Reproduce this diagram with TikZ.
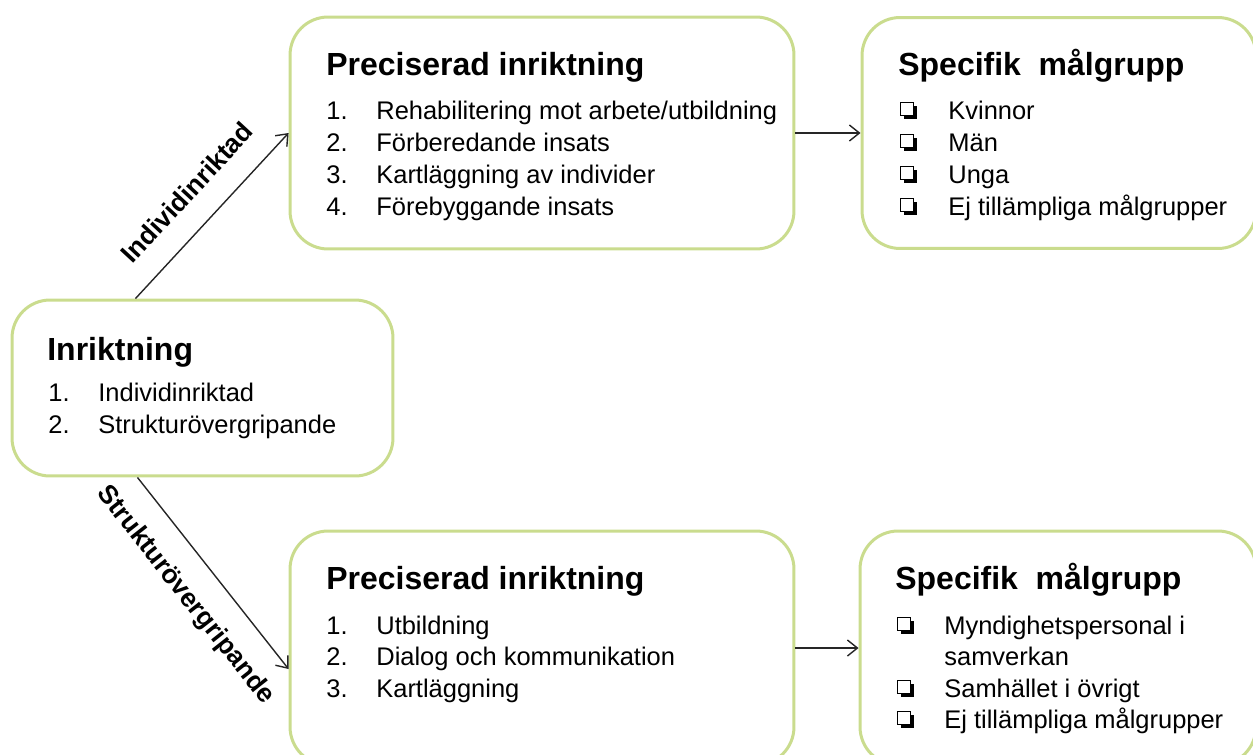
\documentclass[tikz,border=0pt]{standalone}
\usepackage{fontspec}
\setmainfont{Liberation Sans}
\usetikzlibrary{positioning,calc,arrows.meta,shadows}

\definecolor{boxgreen}{HTML}{CADC8E}

\tikzset{
  panel/.style={draw=boxgreen, line width=0.06cm, rounded corners=0.76cm, fill=white},
  title/.style={anchor=base west, inner sep=0pt, font=\fontsize{18.2}{21}\selectfont\bfseries},
  item/.style={anchor=base west, inner sep=0pt, font=\fontsize{14.5}{17}\selectfont},
  chk/.style={draw, fill=white, line width=0.8pt, minimum size=0.26cm, inner sep=0pt,
    drop shadow={shadow xshift=0.06cm, shadow yshift=-0.06cm, opacity=1, fill=black}},
  arr/.style={-{Straight Barb[length=0.2cm,width=0.32cm]}, line width=0.8pt, draw=black!85},
  lbl/.style={font=\fontsize{15}{17}\selectfont\bfseries, inner sep=0pt}
}

\begin{document}
\begin{tikzpicture}[x=0.02cm, y=-0.02cm]
\useasboundingbox (0,0) rectangle (1253,754);
\clip (0,0) rectangle (1253,754);

% left box
\node[panel, minimum width=7.62cm, minimum height=3.52cm] (inr) at (202.5,388) {};
\node[title] (inrtitle) at (47,360) {Inriktning};
\foreach \txt [count=\i] in {Individinriktad, Strukturövergripande}{
  \node[item] (inrnum\i) at (48,369+32*\i) {\i.};
  \node[item] (inritem\i) at (98,369+32*\i) {\txt};
}

% top row
\node[panel, minimum width=10.08cm, minimum height=4.64cm] (prec1) at (542,133) {};
\node[title] (prec1title) at (326,75) {Preciserad inriktning};
\foreach \txt [count=\i] in {Rehabilitering mot arbete/utbildning, Förberedande insats,
    Kartläggning av individer, Förebyggande insats}{
  \node[item] (prec1num\i) at (326,87+32*\i) {\i.};
  \node[item] (prec1item\i) at (376,87+32*\i) {\txt};
}

\node[panel, minimum width=7.88cm, minimum height=4.62cm] (mal1) at (1059,133) {};
\node[title] (mal1title) at (898,75) {Specifik\ \ målgrupp};
\foreach \txt [count=\i] in {Kvinnor, Män, Unga, Ej tillämpliga målgrupper}{
  \node[chk] (mal1box\i) at (907,77+32*\i) {};
  \node[item] (mal1item\i) at (948,87+32*\i) {\txt};
}

% bottom row
\node[panel, minimum width=10.08cm, minimum height=4.68cm] (prec2) at (542,648) {};
\node[title] (prec2title) at (326,589) {Preciserad inriktning};
\foreach \txt [count=\i] in {Utbildning, Dialog och kommunikation, Kartläggning}{
  \node[item] (prec2num\i) at (326,602.5+31.5*\i) {\i.};
  \node[item] (prec2item\i) at (376,602.5+31.5*\i) {\txt};
}

\node[panel, minimum width=7.92cm, minimum height=4.68cm] (mal2) at (1058,648) {};
\node[title] (mal2title) at (895,589) {Specifik\ \ målgrupp};
\node[item] (mal2item1) at (944,634) {Myndighetspersonal i};
\node[item] (mal2item1b) at (944,665) {samverkan};
\node[item] (mal2item2) at (944,697) {Samhället i övrigt};
\node[item] (mal2item3) at (944,728) {Ej tillämpliga målgrupper};
\node[chk] (mal2box1) at (904,624) {};
\node[chk] (mal2box2) at (904,687) {};
\node[chk] (mal2box3) at (904,718) {};

% connectors
\draw[arr] ($(inr.north)+(-67,0)$) -- node[lbl, sloped, above=0.48cm] (lblind) {Individinriktad} (prec1.west);
\draw[arr] ($(inr.south)+(-65,0)$) -- node[lbl, sloped, below=0.45cm] (lblstr) {Strukturövergripande} ($(prec2.west)+(0,21)$);
\draw[arr] (prec1.east) -- (mal1.west);
\draw[arr] (prec2.east) -- (mal2.west);
\end{tikzpicture}
\end{document}
